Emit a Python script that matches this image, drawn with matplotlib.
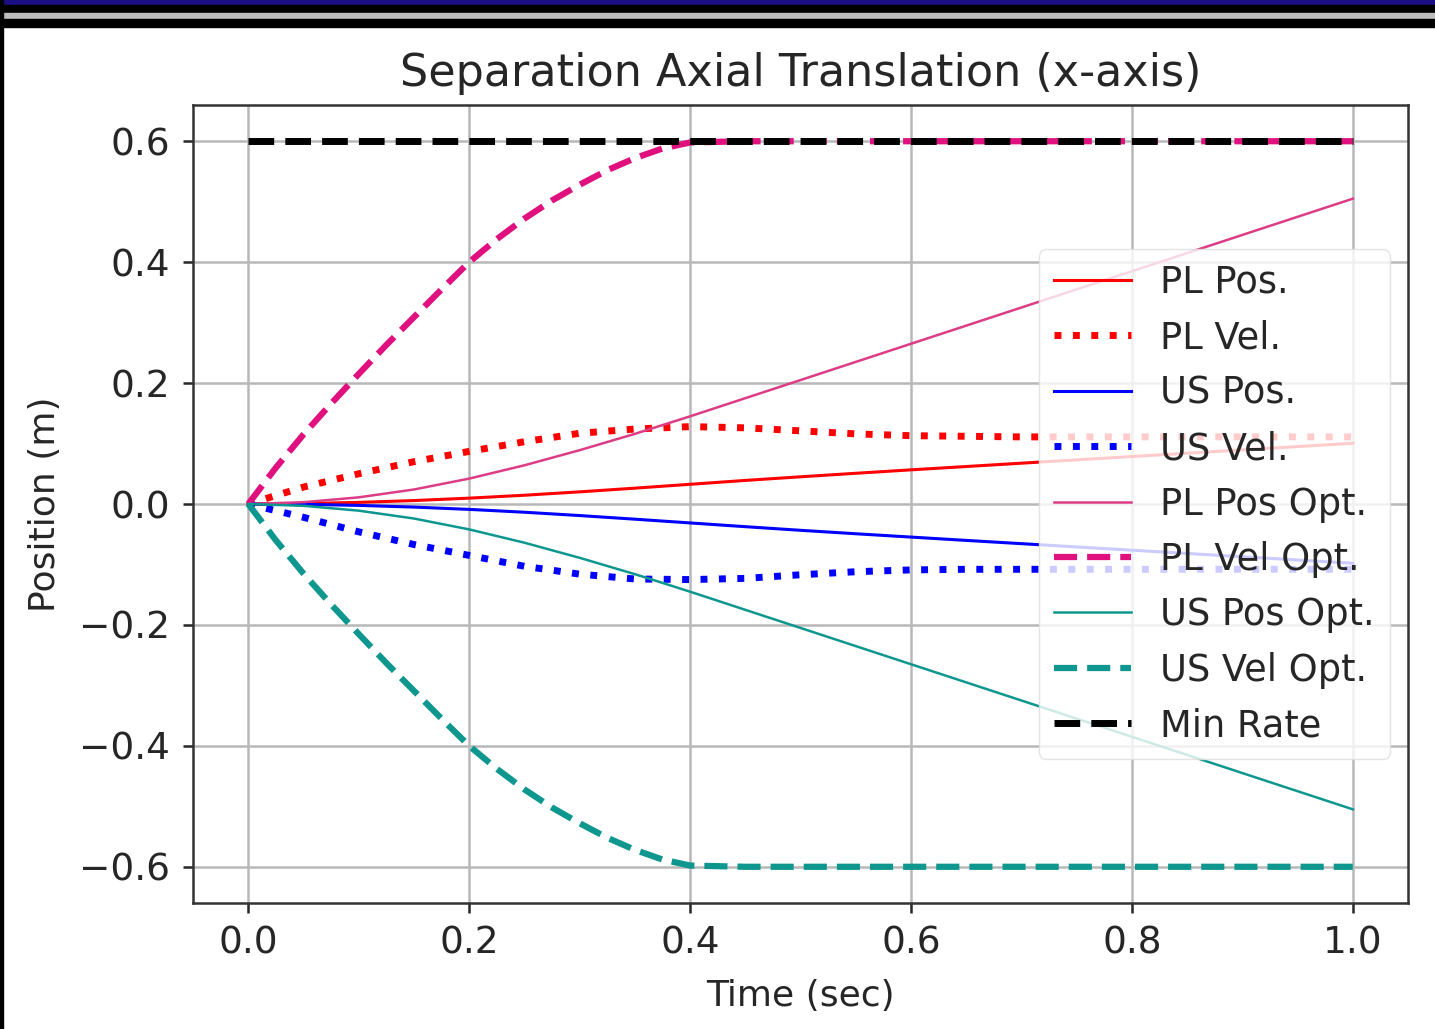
import matplotlib
matplotlib.use("Agg")
import matplotlib.pyplot as plt
from matplotlib.patches import Rectangle

# time samples (sec)
t = [0.0, 0.05, 0.1, 0.15, 0.2, 0.25, 0.3, 0.35, 0.4, 0.45, 0.5,
     0.55, 0.6, 0.65, 0.7, 0.75, 0.8, 0.85, 0.9, 0.95, 1.0]
# finer samples for the optimal velocity curves (they bend quickly)
t_opt = [0.0, 0.025, 0.05, 0.075, 0.1, 0.125, 0.15, 0.175, 0.2, 0.225, 0.25,
         0.275, 0.3, 0.325, 0.35, 0.375, 0.4, 0.45, 0.5, 0.6, 0.7, 0.8, 0.9, 1.0]

# values
pl_pos = [0.0, 0.0007, 0.0027, 0.0057, 0.0097, 0.0145, 0.0201, 0.0262, 0.0326, 0.039, 0.045,
          0.0508, 0.0565, 0.062, 0.0675, 0.073, 0.0785, 0.084, 0.0895, 0.095, 0.1005]
pl_vel = [0.0, 0.028, 0.05, 0.07, 0.087, 0.103, 0.117, 0.124, 0.128, 0.126, 0.121,
          0.116, 0.113, 0.112, 0.111, 0.111, 0.111, 0.111, 0.111, 0.111, 0.111]
us_pos = [0.0, -0.0006, -0.0023, -0.0051, -0.0089, -0.0136, -0.0191, -0.0251, -0.0313, -0.0375, -0.0435,
          -0.0492, -0.0547, -0.0602, -0.0656, -0.071, -0.0764, -0.0818, -0.0872, -0.0926, -0.098]
us_vel = [0.0, -0.022, -0.046, -0.067, -0.085, -0.103, -0.116, -0.124, -0.125, -0.123, -0.117,
          -0.112, -0.109, -0.108, -0.108, -0.108, -0.108, -0.108, -0.108, -0.108, -0.108]
pl_pos_opt = [0.0, 0.003, 0.011, 0.024, 0.042, 0.064, 0.089, 0.116, 0.145, 0.175, 0.205,
              0.235, 0.265, 0.295, 0.325, 0.355, 0.385, 0.415, 0.445, 0.475, 0.505]
us_pos_opt = [0.0, -0.003, -0.011, -0.024, -0.042, -0.064, -0.089, -0.116, -0.145, -0.175, -0.205,
              -0.235, -0.265, -0.295, -0.325, -0.355, -0.385, -0.415, -0.445, -0.475, -0.505]
pl_vel_opt = [0.0, 0.06, 0.115, 0.166, 0.215, 0.263, 0.309, 0.355, 0.40, 0.438, 0.472,
              0.502, 0.528, 0.552, 0.572, 0.588, 0.598, 0.6, 0.6, 0.6, 0.6, 0.6, 0.6, 0.6]
us_vel_opt = [0.0, -0.06, -0.115, -0.166, -0.215, -0.263, -0.309, -0.355, -0.40, -0.438, -0.472,
              -0.502, -0.528, -0.552, -0.572, -0.588, -0.598, -0.6, -0.6, -0.6, -0.6, -0.6, -0.6, -0.6]
min_rate = 0.6

pink = '#e0107e'
pink_thin = '#dc3d86'
teal = '#0e978e'
txt = '#262626'

fig = plt.figure(figsize=(14.35, 10.29), dpi=100)
ax = fig.add_axes([0.1345, 0.1224, 0.8467, 0.7756])

ax.plot(t, pl_pos, color='red', lw=2.2, label='PL Pos.')
ax.plot(t, pl_vel, color='red', ls=':', lw=5, label='PL Vel.')
ax.plot(t, us_pos, color='blue', lw=2.2, label='US Pos.')
ax.plot(t, us_vel, color='blue', ls=':', lw=5, label='US Vel.')
ax.plot(t, pl_pos_opt, color=pink_thin, lw=1.8, label='PL Pos Opt.')
ax.plot(t_opt, pl_vel_opt, color=pink, ls='--', lw=4.5, label='PL Vel Opt.')
ax.plot(t, us_pos_opt, color=teal, lw=1.8, label='US Pos Opt.')
ax.plot(t_opt, us_vel_opt, color=teal, ls='--', lw=4.5, label='US Vel Opt.')
ax.plot(t, [min_rate] * len(t), color='black', ls='--', lw=5, label='Min Rate')

ax.set_xticks([0.0, 0.2, 0.4, 0.6, 0.8, 1.0])
ax.set_yticks([-0.6, -0.4, -0.2, 0.0, 0.2, 0.4, 0.6])
ax.grid(True, color='#b8b8b8', lw=1.8)
for s in ax.spines.values():
    s.set_linewidth(1.8)
    s.set_color('#333333')
ax.tick_params(labelsize=27, length=7.5, width=1.8, colors=txt, pad=9)

ax.set_title('Separation Axial Translation (x-axis)', fontsize=32, pad=14, color=txt)
ax.set_xlabel('Time (sec)', fontsize=26, labelpad=12, color=txt)
ax.set_ylabel('Position (m)', fontsize=26, labelpad=12, color=txt)

ax.legend(loc='center right', fontsize=26.5, handlelength=2.1, framealpha=0.8,
          edgecolor='#dddddd', labelcolor=txt)

# slide frame around the screenshot
fig.add_artist(Rectangle((0, 1 - 5 / 1029), 1, 5 / 1029, transform=fig.transFigure, color='#1c0f84'))
fig.add_artist(Rectangle((0, 1 - 13 / 1029), 1, 8 / 1029, transform=fig.transFigure, color='black'))
fig.add_artist(Rectangle((0, 1 - 19 / 1029), 1, 6 / 1029, transform=fig.transFigure, color='#bdbdbd'))
fig.add_artist(Rectangle((0, 1 - 27 / 1029), 1, 8 / 1029, transform=fig.transFigure, color='black'))
fig.add_artist(Rectangle((0, 0), 3 / 1435, 1, transform=fig.transFigure, color='black'))

fig.savefig('out.png', dpi=100)
